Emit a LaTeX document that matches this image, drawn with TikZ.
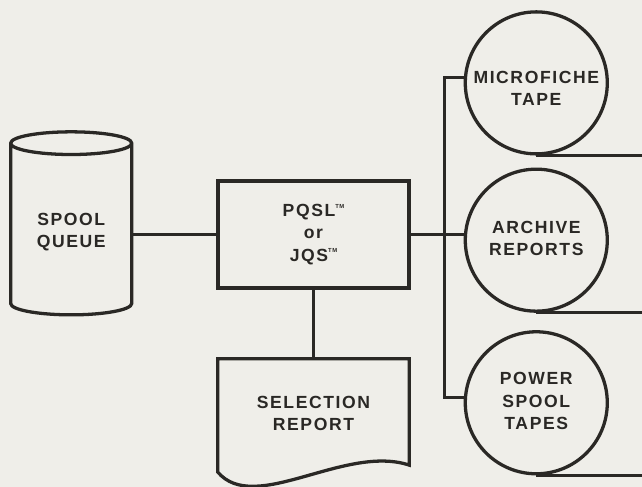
\documentclass[tikz,border=0pt]{standalone}
\usepackage{xcolor}
\usepackage{fontspec}
\usepackage{tikz}
\usetikzlibrary{shapes.geometric, positioning, calc}
\setmainfont{Liberation Sans}[LetterSpace=9]
\definecolor{pagebg}{HTML}{EFEEE9}
\definecolor{inkdark}{HTML}{2A2825}
\newcommand{\tmark}{\raisebox{0.9ex}{\fontsize{5}{5}\selectfont TM}}
\tikzstyle{wire} = [line width=2.8pt, color=inkdark, line join=miter]
\tikzstyle{process} = [rectangle, minimum width=5.73cm, minimum height=3.21cm, text centered, draw=inkdark, line width=2.8pt, fill=pagebg]
\tikzstyle{queue} = [cylinder, shape border rotate=90, aspect=0.25, minimum width=3.63cm, minimum height=5.49cm, text centered, draw=inkdark, line width=2.8pt, fill=pagebg]
\tikzstyle{report} = [rectangle, minimum width=5.73cm, minimum height=3.39cm, text centered]
\tikzstyle{reel} = [circle, minimum size=4.26cm, inner sep=0pt, text centered, draw=inkdark, line width=2.8pt, fill=pagebg]

\begin{document}
\begin{tikzpicture}[x=0.03cm, y=-0.03cm, node distance=2cm, every node/.style={text=inkdark, font=\fontsize{15}{19}\selectfont\bfseries}]
    % Page
    \path[use as bounding box, fill=pagebg] (0,0) rectangle (642,487);

    % Center
    \node[process] (pqsl) at (313.5,234.5) {
        \begin{tabular}{c}
            PQSL\tmark \\
            or \\
            JQS\tmark
        \end{tabular}
    };

    % Spool queue
    \node[queue, left=2.49cm of pqsl, yshift=0.08cm] (spool) {
        \begin{tabular}{c}
            SPOOL \\
            QUEUE
        \end{tabular}
    };

    % Selection report
    \node[report, below=2.07cm of pqsl] (select) {
        \begin{tabular}{c}
            SELECTION \\
            REPORT
        \end{tabular}
    };
    \draw[wire] ($(select.south east)+(0,0.21cm)$) -- (select.north east) -- (select.north west) -- (select.south west)
        .. controls ($(select.south west)+(1.11cm,-1.3cm)$) and ($(select.south west)+(3.81cm,0.85cm)$) .. ($(select.south east)+(0,0.21cm)$) -- cycle;

    % Tapes
    \node[reel, right=1.59cm of pqsl, yshift=-0.17cm] (archive) {
        \begin{tabular}{@{}c@{}}
            ARCHIVE \\
            REPORTS
        \end{tabular}
    };
    \node[reel, above=0.36cm of archive] (micro) {
        \raisebox{-0.22cm}[\height][\depth]{\begin{tabular}{@{}c@{}}
            MICROFICHE \\
            TAPE
        \end{tabular}}
    };
    \node[reel, below=0.52cm of archive] (power) {
        \begin{tabular}{@{}c@{}}
            POWER \\
            SPOOL \\
            TAPES
        \end{tabular}
    };

    % Connectors
    \coordinate[right=1.02cm of pqsl.east] (bus);
    \coordinate (edge) at (642,0);
    \draw[wire] (spool.east |- pqsl.west) -- (pqsl.west);
    \draw[wire] (pqsl.south) -- (select.north);
    \draw[wire] (pqsl.east) -- (pqsl.east -| archive.west);
    \draw[wire] (micro.176) -- (micro.176 -| bus) -- (power.176 -| bus) -- (power.176);
    \draw[wire] (micro.south) -- (micro.south -| edge);
    \draw[wire] (archive.south) -- (archive.south -| edge);
    \draw[wire] (power.south) -- (power.south -| edge);
\end{tikzpicture}
\end{document}
